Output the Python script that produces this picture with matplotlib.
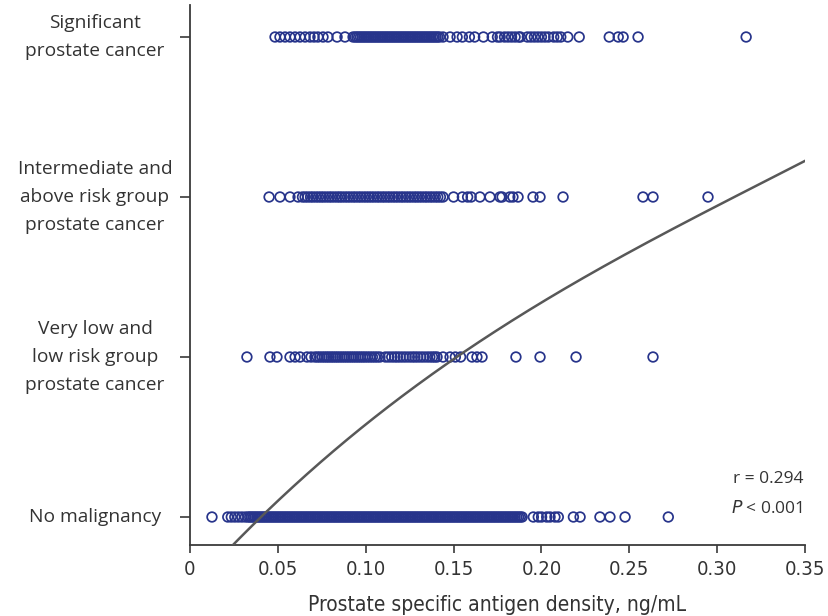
import numpy as np
import matplotlib
matplotlib.use("Agg")
import matplotlib.pyplot as plt
import matplotlib.transforms as mtransforms

categories = ["No malignancy",
              "Very low and\nlow risk group\nprostate cancer",
              "Intermediate and\nabove risk group\nprostate cancer",
              "Significant\nprostate cancer"]

psad_none = [0.0125, 0.0215, 0.0235, 0.0255, 0.0275, 0.0295, 0.0315,
             0.033, 0.034, 0.035, 0.036, 0.037, 0.038, 0.039, 0.040, 0.041, 0.042,
             0.043, 0.044, 0.045, 0.046, 0.047, 0.048, 0.049, 0.050, 0.051, 0.052,
             0.053, 0.054, 0.055, 0.056, 0.057, 0.058, 0.059, 0.060, 0.061, 0.062,
             0.063, 0.064, 0.065, 0.066, 0.067, 0.068, 0.069, 0.070, 0.071, 0.072,
             0.073, 0.074, 0.075, 0.076, 0.077, 0.078, 0.079, 0.080, 0.081, 0.082,
             0.083, 0.084, 0.085, 0.086, 0.087, 0.088, 0.089, 0.090, 0.091, 0.092,
             0.093, 0.094, 0.095, 0.096, 0.097, 0.098, 0.099, 0.100, 0.101, 0.102,
             0.103, 0.104, 0.105, 0.106, 0.107, 0.108, 0.109, 0.110, 0.111, 0.112,
             0.113, 0.114, 0.115, 0.116, 0.117, 0.118, 0.119, 0.120, 0.121, 0.122,
             0.123, 0.124, 0.125, 0.126, 0.127, 0.128, 0.129, 0.130, 0.131, 0.132,
             0.133, 0.134, 0.135, 0.136, 0.137, 0.138, 0.139, 0.140, 0.141, 0.142,
             0.143, 0.144, 0.145, 0.146, 0.147, 0.148, 0.149, 0.150, 0.151, 0.152,
             0.153, 0.154, 0.155, 0.156, 0.157, 0.158, 0.159, 0.160, 0.161, 0.162,
             0.163, 0.164, 0.165, 0.166, 0.167, 0.168, 0.169, 0.170, 0.171, 0.172,
             0.173, 0.174, 0.175, 0.176, 0.177, 0.178, 0.179, 0.180, 0.181, 0.182,
             0.183, 0.184, 0.185, 0.186, 0.187, 0.188, 0.189,
             0.1954, 0.1982, 0.2001, 0.2030, 0.2049, 0.2077, 0.2096,
             0.2182, 0.2220, 0.2333, 0.2390, 0.2476, 0.2722]

psad_low = [0.0324, 0.0455, 0.0495, 0.0569, 0.0598, 0.0626, 0.0666, 0.0689,
            0.0711, 0.0725, 0.0738, 0.0752, 0.0765, 0.0778, 0.0790, 0.0803, 0.0815,
            0.0828, 0.0840, 0.0853, 0.0866, 0.0879, 0.0892, 0.0905, 0.0918, 0.0931,
            0.0944, 0.0957, 0.0970, 0.0983, 0.0996, 0.1010, 0.1024, 0.1038, 0.1052,
            0.1066, 0.1081, 0.1112, 0.1130, 0.1148, 0.1165, 0.1180, 0.1196, 0.1213,
            0.1230, 0.1248, 0.1265, 0.1280, 0.1296, 0.1313, 0.1330, 0.1348, 0.1365,
            0.1380, 0.1393, 0.1406, 0.1440, 0.1480, 0.1510, 0.1540,
            0.1605, 0.1633, 0.1662, 0.1855, 0.1992, 0.2197, 0.2635]

psad_mid = [0.0450, 0.0512, 0.0569, 0.0615,
            0.0640, 0.0655, 0.0670, 0.0686, 0.0700, 0.0716, 0.0731, 0.0746, 0.0760,
            0.0776, 0.0792, 0.0806, 0.0822, 0.0838, 0.0852, 0.0866, 0.0882, 0.0897,
            0.0912, 0.0928, 0.0942, 0.0958, 0.0972, 0.0988, 0.1003, 0.1018, 0.1033,
            0.1048, 0.1064, 0.1078, 0.1094, 0.1108, 0.1124, 0.1138, 0.1154, 0.1169,
            0.1184, 0.1200, 0.1214, 0.1230, 0.1245, 0.1260, 0.1276, 0.1290, 0.1305,
            0.1320, 0.1336, 0.1350, 0.1366, 0.1380, 0.1396, 0.1410, 0.1425, 0.1440,
            0.1500, 0.1550, 0.1580, 0.1600, 0.1650, 0.1707, 0.1764, 0.1776, 0.1820,
            0.1838, 0.1867, 0.1952, 0.1992, 0.2123, 0.2578, 0.2635, 0.2948]

psad_sig = [0.0484, 0.0512, 0.0541, 0.0569, 0.0598, 0.0626, 0.0655, 0.0683,
            0.0706, 0.0728, 0.0757, 0.0785, 0.0837, 0.0882, 0.0928,
            0.094, 0.095, 0.096, 0.097, 0.098, 0.099, 0.100, 0.101, 0.102, 0.103,
            0.104, 0.105, 0.106, 0.107, 0.108, 0.109, 0.110, 0.111, 0.112, 0.113,
            0.114, 0.115, 0.116, 0.117, 0.118, 0.119, 0.120, 0.121, 0.122, 0.123,
            0.124, 0.125, 0.126, 0.127, 0.128, 0.129, 0.130, 0.131, 0.132, 0.133,
            0.134, 0.135, 0.136, 0.137, 0.138, 0.139, 0.140, 0.141, 0.142,
            0.1440, 0.1480, 0.1520, 0.1550, 0.1590, 0.1620, 0.1670, 0.1720, 0.1750,
            0.1765, 0.1790, 0.1810, 0.1830, 0.1850, 0.1870, 0.1880,
            0.1920, 0.1940, 0.1960, 0.1980, 0.2000, 0.2020, 0.2040, 0.2070, 0.2090,
            0.2110, 0.2150, 0.2215, 0.2386, 0.2437, 0.2465, 0.2550, 0.3165]

# trend curve at a few places; smoothed with a cubic fit
curve_x = [0.0256, 0.0408, 0.1006, 0.1546, 0.2049, 0.2960, 0.3500]
curve_y = [-0.161, 0.000, 0.597, 1.004, 1.380, 1.923, 2.225]

stats_r = "r = 0.294"
x_ticks = [0, 0.05, 0.10, 0.15, 0.20, 0.25, 0.30, 0.35]
x_ticklabels = ["0", "0.05", "0.10", "0.15", "0.20", "0.25", "0.30", "0.35"]
x_label = "Prostate specific antigen density, ng/mL"

navy = "#27348b"
axis_col = "#3a3a3a"
text_col = "#333333"

fig = plt.figure(figsize=(8.29, 6.16), dpi=100)
ax = fig.add_axes([190/829, 1 - 545/616, 615/829, 540/616])

series = [psad_none, psad_low, psad_mid, psad_sig]
for i, vals in enumerate(series):
    ax.scatter(vals, np.full(len(vals), i), s=48, facecolors="none",
               edgecolors=navy, linewidths=1.25, zorder=3)

coef = np.polyfit(curve_x, curve_y, 3)
xs = np.linspace(0.02, 0.35, 300)
ax.plot(xs, np.polyval(coef, xs), color="#585858", lw=1.8, zorder=4)

ax.set_xlim(0, 0.35)
ax.set_ylim(-0.175, 3.2)

for s in ["top", "right"]:
    ax.spines[s].set_visible(False)
for s in ["left", "bottom"]:
    ax.spines[s].set_color(axis_col)
    ax.spines[s].set_linewidth(1.3)

narrow = dict(family=["DejaVu Sans"], fontstretch="condensed")
ax.set_xticks(x_ticks)
ax.set_xticklabels(x_ticklabels, fontsize=14.5, color=text_col, **narrow)
ax.tick_params(axis="x", direction="out", length=6, width=1.2, color=axis_col, pad=5)
ax.set_yticks(range(len(categories)))
ax.set_yticklabels([""] * len(categories))
ax.tick_params(axis="y", direction="out", length=7, width=1.2, color=axis_col)

ax.set_xlabel(x_label, fontsize=15, color=text_col, labelpad=11, **narrow)

trans = mtransforms.blended_transform_factory(fig.transFigure, ax.transData)
for i, lab in enumerate(categories):
    ax.text(95/829, i, lab, transform=trans, ha="center", va="center",
            family=["Open Sans", "DejaVu Sans"], fontsize=13.8, color=text_col,
            linespacing=1.75, clip_on=False)

ax.text(0.997, 0.122, stats_r, transform=ax.transAxes, ha="right", va="center",
        family=["Open Sans", "DejaVu Sans"], fontsize=12.5, color=text_col)
ax.text(0.997, 0.067, "$\\mathit{P}$ < 0.001", transform=ax.transAxes, ha="right",
        va="center", family=["Open Sans", "DejaVu Sans"], fontsize=12.5, color=text_col)

fig.savefig("out.png", dpi=100)
